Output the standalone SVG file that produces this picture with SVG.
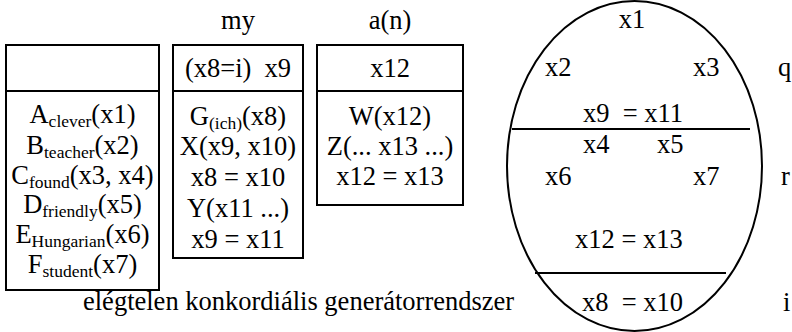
<svg xmlns="http://www.w3.org/2000/svg" width="792" height="332" viewBox="0 0 792 332">
<style>
text{font-family:"Liberation Serif","Times New Roman",serif;font-size:26.5px;fill:#000}
.c{text-anchor:middle}
.s{font-size:17.5px}
.box{fill:none;stroke:#000;stroke-width:2}
.ln{stroke:#000;stroke-width:2}
</style>
<rect width="792" height="332" fill="#fff"/>
<g id="box1">
<rect class="box" x="6" y="45" width="153" height="245"/>
<line class="ln" x1="6" y1="91" x2="159" y2="91"/>
<text class="c" x="82.5" y="123">A<tspan class="s" dy="4">clever</tspan><tspan dy="-4">(x1)</tspan></text>
<text class="c" x="82.5" y="154">B<tspan class="s" dy="4">teacher</tspan><tspan dy="-4">(x2)</tspan></text>
<text class="c" x="82.5" y="184">C<tspan class="s" dy="4">found</tspan><tspan dy="-4">(x3, x4)</tspan></text>
<text class="c" x="82.5" y="213">D<tspan class="s" dy="4">friendly</tspan><tspan dy="-4">(x5)</tspan></text>
<text class="c" x="82.5" y="243">E<tspan class="s" dy="4">Hungarian</tspan><tspan dy="-4">(x6)</tspan></text>
<text class="c" x="82.5" y="273">F<tspan class="s" dy="4">student</tspan><tspan dy="-4">(x7)</tspan></text>
</g>
<g id="box2">
<text class="c" x="238" y="29">my</text>
<rect class="box" x="173" y="45" width="130" height="213"/>
<line class="ln" x1="173" y1="91" x2="303" y2="91"/>
<text class="c" x="238" y="77" xml:space="preserve">(x8=i)  x9</text>
<text class="c" x="238" y="125">G<tspan class="s" dy="4">(ich)</tspan><tspan dy="-4">(x8)</tspan></text>
<text class="c" x="238" y="155">X(x9, x10)</text>
<text class="c" x="238" y="186">x8 = x10</text>
<text class="c" x="238" y="217">Y(x11 ...)</text>
<text class="c" x="238" y="248">x9 = x11</text>
</g>
<g id="box3">
<text class="c" x="390" y="29">a(n)</text>
<rect class="box" x="317" y="45" width="146" height="160"/>
<line class="ln" x1="317" y1="91" x2="463" y2="91"/>
<text class="c" x="390" y="77">x12</text>
<text class="c" x="390" y="125">W(x12)</text>
<text class="c" x="390" y="155">Z(... x13 ...)</text>
<text class="c" x="390" y="185">x12 = x13</text>
</g>
<g id="caption">
<text x="83" y="310">elégtelen konkordiális generátorrendszer</text>
</g>
<g id="ellipse">
<ellipse class="box" cx="634.5" cy="166" rx="127.5" ry="165"/>
<line class="ln" x1="512" y1="129" x2="750" y2="129"/>
<line class="ln" x1="535" y1="273" x2="726" y2="273"/>
<text class="c" x="632" y="28">x1</text>
<text x="545" y="76">x2</text>
<text x="693" y="76">x3</text>
<text x="583" y="122" xml:space="preserve">x9  = x11</text>
<text x="583" y="153">x4</text>
<text x="657" y="153">x5</text>
<text x="545" y="185">x6</text>
<text x="693" y="185">x7</text>
<text x="575" y="248">x12 = x13</text>
<text x="582" y="311" xml:space="preserve">x8  = x10</text>
</g>
<g id="labels">
<text x="778" y="76">q</text>
<text x="781" y="185">r</text>
<text x="783" y="311">i</text>
</g>
</svg>
